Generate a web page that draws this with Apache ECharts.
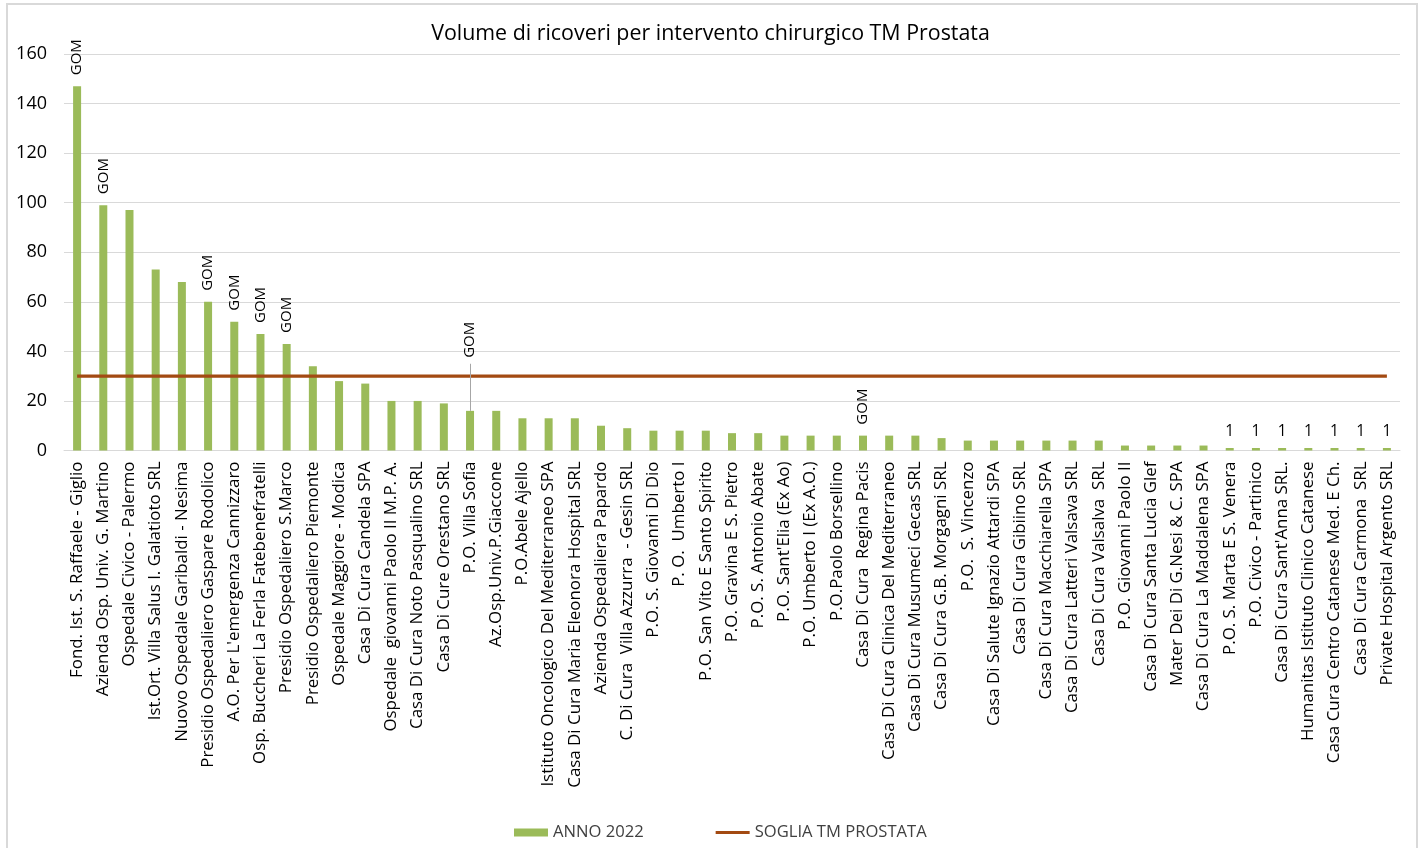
<!DOCTYPE html>
<html>
<head>
<meta charset="utf-8">
<script src="https://cdn.jsdelivr.net/npm/echarts@6/dist/echarts.min.js"></script>
<style>html,body{margin:0;padding:0;background:#fff;}#c{width:1421px;height:848px;}</style>
</head>
<body>
<div id="c"></div>
<script>
const categories = [
  "Fond. Ist. S. Raffaele - Giglio",
  "Azienda Osp. Univ. G. Martino",
  "Ospedale Civico - Palermo",
  "Ist.Ort. Villa Salus I. Galatioto SRL",
  "Nuovo Ospedale Garibaldi - Nesima",
  "Presidio Ospedaliero Gaspare Rodolico",
  "A.O. Per L'emergenza Cannizzaro",
  "Osp. Buccheri La Ferla Fatebenefratelli",
  "Presidio Ospedaliero S.Marco",
  "Presidio Ospedaliero Piemonte",
  "Ospedale Maggiore - Modica",
  "Casa Di Cura Candela SPA",
  "Ospedale  giovanni Paolo II M.P. A.",
  "Casa Di Cura Noto Pasqualino SRL",
  "Casa Di Cure Orestano SRL",
  "P.O. Villa Sofia",
  "Az.Osp.Univ.P.Giaccone",
  "P.O.Abele Ajello",
  "Istituto Oncologico Del Mediterraneo SPA",
  "Casa Di Cura Maria Eleonora Hospital SRL",
  "Azienda Ospedaliera Papardo",
  "C. Di Cura  Villa Azzurra  - Gesin SRL",
  "P.O. S. Giovanni Di Dio",
  "P. O.  Umberto I",
  "P.O. San Vito E Santo Spirito",
  "P.O. Gravina E S. Pietro",
  "P.O. S. Antonio Abate",
  "P.O. Sant'Elia (Ex Ao)",
  "P.O. Umberto I (Ex A.O.)",
  "P.O.Paolo Borsellino",
  "Casa Di Cura  Regina Pacis",
  "Casa Di Cura Clinica Del Mediterraneo",
  "Casa Di Cura Musumeci Gecas SRL",
  "Casa Di Cura G.B. Morgagni SRL",
  "P.O.  S. Vincenzo",
  "Casa Di Salute Ignazio Attardi SPA",
  "Casa Di Cura Gibiino SRL",
  "Casa Di Cura Macchiarella SPA",
  "Casa Di Cura Latteri Valsava SRL",
  "Casa Di Cura Valsalva  SRL",
  "P.O. Giovanni Paolo II",
  "Casa Di Cura Santa Lucia Glef",
  "Mater Dei Di G.Nesi & C. SPA",
  "Casa Di Cura La Maddalena SPA",
  "P.O. S. Marta E S. Venera",
  "P.O. Civico - Partinico",
  "Casa Di Cura Sant'Anna SRL.",
  "Humanitas Istituto Clinico Catanese",
  "Casa Cura Centro Catanese Med. E Ch.",
  "Casa Di Cura Carmona  SRL",
  "Private Hospital Argento SRL"
];
const anno2022 = [147,99,97,73,68,60,52,47,43,34,28,27,20,20,19,16,16,13,13,13,10,9,8,8,8,7,7,6,6,6,6,6,6,5,4,4,4,4,4,4,2,2,2,2,1,1,1,1,1,1,1];
const soglia = [30,30,30,30,30,30,30,30,30,30,30,30,30,30,30,30,30,30,30,30,30,30,30,30,30,30,30,30,30,30,30,30,30,30,30,30,30,30,30,30,30,30,30,30,30,30,30,30,30,30,30];
// data labels shown above bars ("" = none)
const barLabels = ["GOM","GOM","","","","GOM","GOM","GOM","GOM","","","","","","","GOM","","","","","","","","","","","","","","","GOM","","","","","","","","","","","","","","1","1","1","1","1","1","1"];
const yTicks = {min:0, max:160, interval:20};
// label moved up with a leader line: category index, leader line top value
const movedLabel = {index:15, leaderTop:35};

const FONT = "Open Sans";
const chart = echarts.init(document.getElementById('c'), null, {renderer:'canvas'});

const barData = anno2022.map((v,i)=>{
  const lab = barLabels[i];
  const item = {value:v};
  if (lab === "GOM") {
    item.label = {show:true, formatter:"GOM", rotate:90, align:'left', verticalAlign:'middle', position:'top',
      distance: i===movedLabel.index ? 53 : 11, fontSize:15, color:'#000', fontFamily:FONT};
  } else if (lab !== "") {
    item.label = {show:true, formatter:lab, position:'top', distance:8, fontSize:15.5, color:'#000', fontFamily:FONT};
  }
  return item;
});

chart.setOption({
  animation:false,
  backgroundColor:'#fff',
  title:{
    text:'Volume di ricoveri per intervento chirurgico TM Prostata',
    left:'center', top:18,
    textStyle:{fontFamily:FONT, fontSize:21.4, fontWeight:'normal', color:'#000'}
  },
  graphic:[{type:'rect', shape:{x:7,y:4,width:1410,height:880}, style:{fill:'none', stroke:'#D9D9D9', lineWidth:2}, silent:true, z:-10}],
  legend:{
    left:509, top:819,
    itemWidth:34, itemHeight:8, itemGap:72,
    textStyle:{fontFamily:FONT, fontSize:16.6, color:'#404040'},
    data:[{name:'ANNO 2022', icon:'rect'}, {name:'SOGLIA TM PROSTATA', icon:'path://M0,0H34V3.2H0Z'}]
  },
  grid:{left:64, right:21, top:54, bottom:397.5, containLabel:false},
  xAxis:{
    type:'category', data:categories,
    axisTick:{show:false},
    axisLine:{lineStyle:{color:'#D9D9D9', width:1}},
    axisLabel:{interval:0, rotate:90, margin:11, fontFamily:FONT, fontSize:16.9, color:'#000'}
  },
  yAxis:{
    type:'value', min:yTicks.min, max:yTicks.max, interval:yTicks.interval,
    axisLine:{show:false}, axisTick:{show:false},
    axisLabel:{margin:17, fontFamily:FONT, fontSize:18, color:'#000'},
    splitLine:{lineStyle:{color:'#D9D9D9', width:1}}
  },
  series:[
    {
      name:'ANNO 2022', type:'bar', data:barData, barWidth:8,
      itemStyle:{color:'#9BBB59'},
      markLine:{
        silent:true, symbol:'none', label:{show:false},
        lineStyle:{color:'#A6A6A6', width:1, type:'solid'},
        data:[[{coord:[movedLabel.index, anno2022[movedLabel.index]]},{coord:[movedLabel.index, movedLabel.leaderTop]}]]
      },
      z:2
    },
    {
      name:'SOGLIA TM PROSTATA', type:'line', data:soglia,
      symbol:'none', lineStyle:{color:'#A34A12', width:3.2},
      itemStyle:{color:'#A34A12'}, z:3
    }
  ]
});
</script>
</body>
</html>
